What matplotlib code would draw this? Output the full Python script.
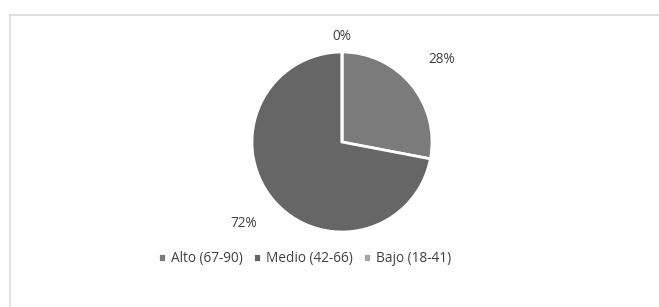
import numpy as np
import matplotlib
matplotlib.use("Agg")
import matplotlib.pyplot as plt
from matplotlib.lines import Line2D

categories = ["Alto (67-90)", "Medio (42-66)", "Bajo (18-41)"]
values = [28, 72, 0]
labels = ["28%", "72%", "0%"]
colors = ["#7b7b7b", "#666666", "#a5a5a5"]
label_dist = [1.44, 1.42, 1.17]

plt.rcParams['font.family'] = ['Open Sans', 'DejaVu Sans']

W, H = 659, 307
fig = plt.figure(figsize=(W / 100, H / 100), dpi=100)
fig.patch.set_facecolor("white")

cx, cy, r = 342, 142, 90
ax = fig.add_axes([(cx - r) / W, (H - cy - r) / H, 2 * r / W, 2 * r / H])
wedges, _ = ax.pie(values, colors=colors, startangle=90, counterclock=False,
                   radius=1.0, wedgeprops=dict(edgecolor="white", linewidth=2))
ax.set_xlim(-1, 1)
ax.set_ylim(-1, 1)
ax.set_aspect("equal")
ax.axis("off")

for w, lab, d in zip(wedges, labels, label_dist):
    ang = np.deg2rad((w.theta1 + w.theta2) / 2)
    ax.text(d * np.cos(ang), d * np.sin(ang), lab, ha="center", va="center",
            fontsize=9.8, color="#404040", clip_on=False)

fig.legend(wedges, categories, loc="center", bbox_to_anchor=(0.462, 0.158),
           ncol=3, frameon=False, fontsize=9.8, handlelength=0.6, handleheight=0.6,
           handletextpad=0.4, columnspacing=0.7, labelcolor="#404040")

# outer frame (top and left visible)
fig.add_artist(Line2D([9.5 / W, 1.0], [1 - 14.5 / H, 1 - 14.5 / H], color="#d9d9d9", lw=1.2,
                      transform=fig.transFigure))
fig.add_artist(Line2D([9.5 / W, 9.5 / W], [0, 1 - 14.5 / H], color="#d9d9d9", lw=1.2,
                      transform=fig.transFigure))

fig.savefig("out.png", dpi=100)
